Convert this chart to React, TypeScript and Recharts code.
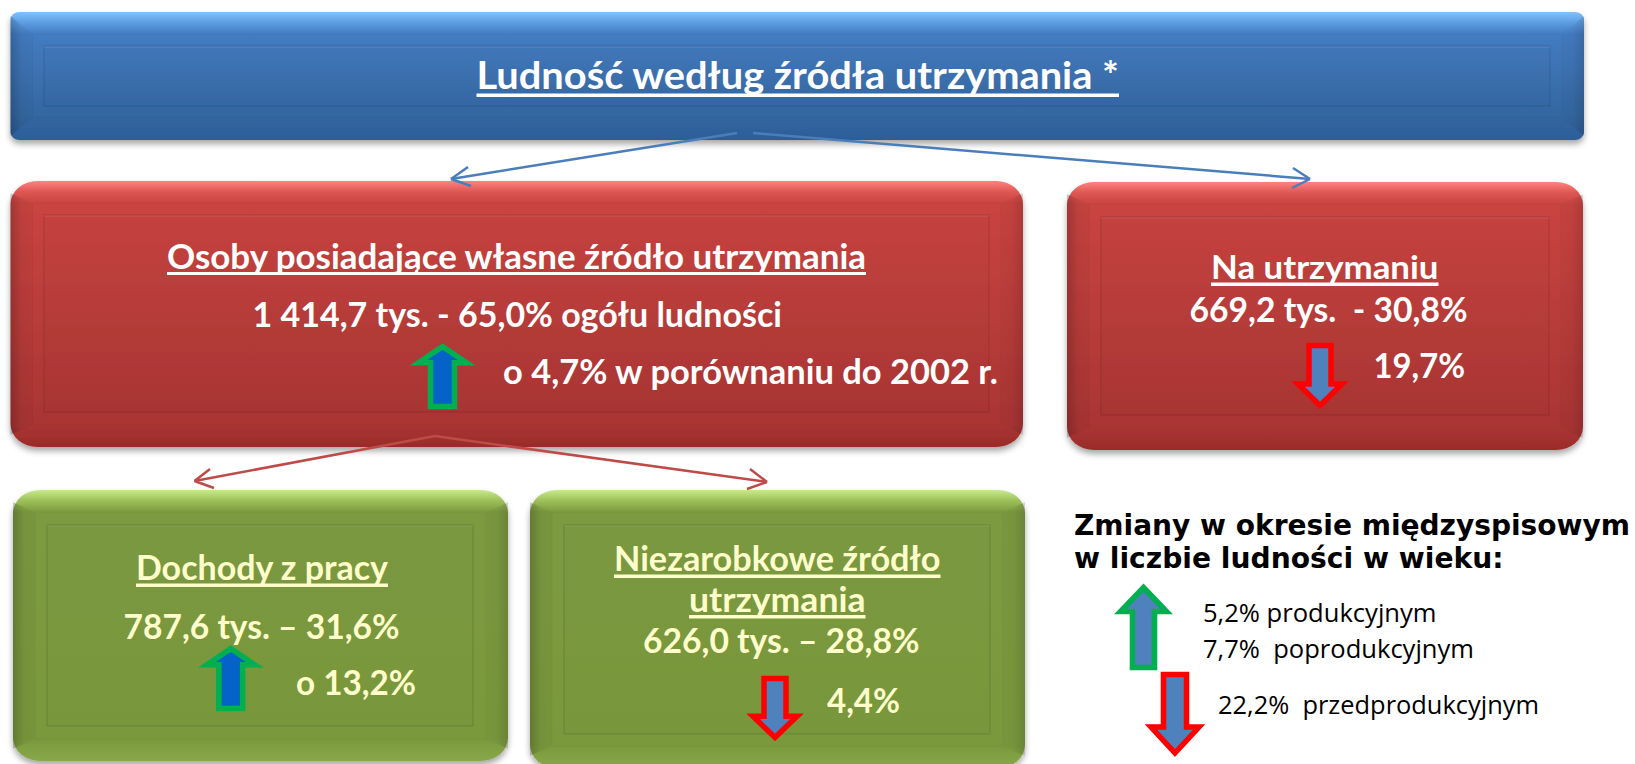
import React from "react";
import { ComposedChart, XAxis, YAxis, ReferenceArea, ReferenceLine, Scatter } from "recharts";

// ---------- content ----------
const titleLabel = "Ludność według źródła utrzymania *";
const ownSourceLabels = [
  "Osoby posiadające własne źródło utrzymania",
  "1 414,7 tys. - 65,0% ogółu ludności",
  "o 4,7% w porównaniu do 2002 r.",
];
const dependentLabels = ["Na utrzymaniu", "669,2 tys.  - 30,8%", "19,7%"];
const workLabels = ["Dochody z pracy", "787,6 tys. – 31,6%", "o 13,2%"];
const nonEarnedLabels = ["Niezarobkowe źródło", "utrzymania", "626,0 tys. – 28,8%", "4,4%"];
const legendHeadingLabels = ["Zmiany w okresie międzyspisowym", "w liczbie ludności w wieku:"];
const legendLabels = ["5,2% produkcyjnym", "7,7%  poprodukcyjnym", "22,2%  przedprodukcyjnym"];

// ---------- layout (chart space is one unit per pixel) ----------
const W = 1635;
const H = 764;
const LATO = "Lato, Carlito, sans-serif";
const DEJAVU = "'DejaVu Sans', sans-serif";
const OPEN = "'Open Sans', sans-serif";
const WHITE = "#ffffff";
const CREAM = "#ffffcc";

const palettes: Record<string, string[]> = {
  blue: ["#80c2ff", "#5c9be0", "#447cc2", "#33669f", "#2c5d98"],
  red: ["#ff8280", "#dd5653", "#c94441", "#a93533", "#9b2b29"],
  green: ["#c8ea8e", "#9cbf58", "#7c9a40", "#7a993d", "#88a84a"],
};

const boxes = [
  { id: "blue", x1: 10.5, x2: 1584, y1: 12, y2: 140, r: 9, inner: [44, 1550, 46, 106], bevel: 22 },
  { id: "red", x1: 10.5, x2: 1023, y1: 181, y2: 447, r: 27, inner: [44, 989, 215, 412], bevel: 22 },
  { id: "red", x1: 1067, x2: 1583, y1: 182, y2: 450, r: 27, inner: [1101, 1549, 217, 415], bevel: 22 },
  { id: "green", x1: 13, x2: 508, y1: 490, y2: 761, r: 27, inner: [47, 473, 525, 726], bevel: 22 },
  { id: "green", x1: 530, x2: 1025, y1: 490, y2: 768, r: 27, inner: [564, 990, 525, 734], bevel: 22 },
];

const arrows = [
  { x1: 418.5, x2: 466.5, y1: 346.5, y2: 406.5, up: true, fill: "#0563c8", stroke: "#00b050", shaft: 0.5, head: 0.27 },
  { x1: 1298, x2: 1342, y1: 345.5, y2: 405.5, up: false, fill: "#4f81bd", stroke: "#ff0000", shaft: 0.5, head: 0.36 },
  { x1: 207, x2: 254.5, y1: 648.5, y2: 708.5, up: true, fill: "#0563c8", stroke: "#00b050", shaft: 0.5, head: 0.27 },
  { x1: 753, x2: 797, y1: 678.5, y2: 737.5, up: false, fill: "#4f81bd", stroke: "#ff0000", shaft: 0.5, head: 0.36 },
  { x1: 1120.5, x2: 1166.5, y1: 587.5, y2: 667.5, up: true, fill: "#4f81bd", stroke: "#00b050", shaft: 0.48, head: 0.3 },
  { x1: 1151, x2: 1199, y1: 674.5, y2: 753, up: false, fill: "#4f81bd", stroke: "#ff0000", shaft: 0.48, head: 0.33 },
];

const connectors = [
  { stroke: "#4a7ebb", from: [737, 133], tip: [451, 179], a: [468, 167], b: [471, 186] },
  { stroke: "#4a7ebb", from: [753, 133], tip: [1310, 179], a: [1293, 168], b: [1292, 188] },
  { stroke: "#be4b48", from: [435, 436], tip: [194.5, 481], a: [210, 469], b: [214, 488] },
  { stroke: "#be4b48", from: [435, 436], tip: [767, 482], a: [750, 469], b: [747, 489] },
];

const row = (text: string, x: number, x2: number, y: number, size: number, fill: string, under?: number[], family = LATO, weight = 700) =>
  ({ text, x, y, w: x2 - x, size, fill, under, family, weight });

const textRows = [
  row(titleLabel, 476.5, 1119, 89, 38, WHITE, [4.5, 8]),
  row(ownSourceLabels[0], 167, 866, 268.5, 34, WHITE, [3.5, 6.5]),
  row(ownSourceLabels[1], 252.5, 782, 326.5, 34, WHITE),
  row(ownSourceLabels[2], 503, 998, 383.5, 34, WHITE),
  row(dependentLabels[0], 1211, 1438.5, 279, 33, WHITE, [3.5, 7]),
  row(dependentLabels[1], 1189.5, 1467.5, 321.5, 34, WHITE),
  row(dependentLabels[2], 1373.5, 1465, 378, 34, WHITE),
  row(workLabels[0], 136, 388, 580, 34, CREAM, [3.5, 7]),
  row(workLabels[1], 123.5, 399.5, 638.5, 34, CREAM),
  row(workLabels[2], 296, 416, 694.5, 34, CREAM),
  row(nonEarnedLabels[0], 614, 940.5, 571, 34, CREAM, [3.5, 7]),
  row(nonEarnedLabels[1], 689, 865.5, 611.5, 34, CREAM, [3.5, 7]),
  row(nonEarnedLabels[2], 643, 919.5, 653, 34, CREAM),
  row(nonEarnedLabels[3], 827, 900, 712.5, 34, CREAM),
  row(legendHeadingLabels[0], 1074, 1630, 535, 28, "#000000", undefined, DEJAVU),
  row(legendHeadingLabels[1], 1074, 1503.5, 568, 28, "#000000", undefined, DEJAVU),
  row(legendLabels[0], 1203, 1436.5, 622, 25, "#000000", undefined, OPEN, 400),
  row(legendLabels[1], 1203, 1474, 658, 25, "#000000", undefined, OPEN, 400),
  row(legendLabels[2], 1218, 1539, 714, 25, "#000000", undefined, OPEN, 400),
];

// ---------- shapes ----------
const boxShape = (b: (typeof boxes)[number], i: number) => (p: any) => {
  const { x, y, width: w, height: h } = p;
  const [ix1, ix2, iy1, iy2] = b.inner;
  const r = b.r;
  const bv = b.bevel;
  const c = palettes[b.id];
  const e = r * 0.45;
  return (
    <g>
      <defs>
        <linearGradient id={`grad-${i}`} x1="0" y1="0" x2="0" y2="1">
          <stop offset="0" stopColor={c[0]} />
          <stop offset={(bv * 0.5) / h} stopColor={c[1]} />
          <stop offset={bv / h} stopColor={c[2]} />
          <stop offset={1 - bv / h} stopColor={c[3]} />
          <stop offset="1" stopColor={c[4]} />
        </linearGradient>
      </defs>
      <rect x={x} y={y} width={w} height={h} rx={r} ry={r * 0.85} fill={`url(#grad-${i})`} filter="url(#boxShadow)" />
      <polygon points={`${x},${y + e} ${x + bv},${y + bv} ${x + bv},${y + h - bv} ${x},${y + h - e}`} fill="url(#edgeLeft)" />
      <polygon points={`${x + w},${y + e} ${x + w - bv},${y + bv} ${x + w - bv},${y + h - bv} ${x + w},${y + h - e}`} fill="url(#edgeRight)" />
      <rect x={x + bv} y={y + bv} width={w - 2 * bv} height={h - 2 * bv} fill="none" stroke="#000" strokeOpacity={0.035} />
      <rect x={ix1} y={iy1} width={ix2 - ix1} height={iy2 - iy1} fill="#000" fillOpacity={0.012} stroke="#000" strokeOpacity={0.09} strokeWidth={1.5} />
      <line x1={ix1} x2={ix2} y1={iy1 + 1} y2={iy1 + 1} stroke="#fff" strokeOpacity={0.09} strokeWidth={1.5} />
    </g>
  );
};

const arrowShape = (a: (typeof arrows)[number]) => (p: any) => {
  const { x, y, width: w, height: h } = p;
  const cx = x + w / 2;
  const half = (w * a.shaft) / 2;
  const head = h * a.head;
  const d = a.up
    ? `M${cx},${y} L${x + w},${y + head} H${cx + half} V${y + h} H${cx - half} V${y + head} H${x} Z`
    : `M${cx},${y + h} L${x + w},${y + h - head} H${cx + half} V${y} H${cx - half} V${y + h - head} H${x} Z`;
  return <path d={d} fill={a.fill} stroke={a.stroke} strokeWidth={5.5} strokeMiterlimit={6} />;
};

const TextShape = (p: any) => {
  const { cx, cy, payload: t } = p;
  return (
    <g>
      <text
        x={cx}
        y={cy}
        fontFamily={t.family}
        fontWeight={t.weight}
        fontSize={t.size}
        fill={t.fill}
        textLength={t.w}
        lengthAdjust="spacingAndGlyphs"
        style={{ whiteSpace: "pre" }}
      >
        {t.text}
      </text>
      {t.under ? <rect x={cx} y={cy + t.under[0]} width={t.w} height={t.under[1] - t.under[0]} fill={t.fill} /> : null}
    </g>
  );
};

const seg = (a: number[], b: number[]) => [
  { x: a[0], y: a[1] },
  { x: b[0], y: b[1] },
] as any;

export default function App() {
  return (
    <div style={{ position: "absolute", left: 0, top: 0, width: W, height: H, background: "#fff" }}>
      <ComposedChart width={W} height={H} margin={{ top: 0, right: 0, bottom: 0, left: 0 }} data={[]}>
        <defs>
          <linearGradient id="edgeLeft" x1="0" y1="0" x2="1" y2="0">
            <stop offset="0" stopColor="#000" stopOpacity={0.2} />
            <stop offset="0.5" stopColor="#000" stopOpacity={0.05} />
            <stop offset="1" stopColor="#000" stopOpacity={0.03} />
          </linearGradient>
          <linearGradient id="edgeRight" x1="1" y1="0" x2="0" y2="0">
            <stop offset="0" stopColor="#000" stopOpacity={0.14} />
            <stop offset="0.5" stopColor="#000" stopOpacity={0.04} />
            <stop offset="1" stopColor="#000" stopOpacity={0.02} />
          </linearGradient>
          <filter id="boxShadow" x="-3%" y="-3%" width="106%" height="112%">
            <feDropShadow dx="0" dy="4" stdDeviation="3" floodColor="#000" floodOpacity="0.35" />
          </filter>
        </defs>
        <XAxis type="number" dataKey="x" domain={[0, W]} hide allowDataOverflow />
        <YAxis type="number" dataKey="y" domain={[0, H]} reversed hide allowDataOverflow />
        {boxes.map((b, i) => (
          <ReferenceArea key={`box${i}`} x1={b.x1} x2={b.x2} y1={b.y1} y2={b.y2} shape={boxShape(b, i)} ifOverflow="visible" />
        ))}
        {arrows.map((a, i) => (
          <ReferenceArea key={`arrow${i}`} x1={a.x1} x2={a.x2} y1={a.y1} y2={a.y2} shape={arrowShape(a)} ifOverflow="visible" />
        ))}
        {connectors.flatMap((c, i) => [
          <ReferenceLine key={`s${i}`} segment={seg(c.from, c.tip)} stroke={c.stroke} strokeWidth={2.5} ifOverflow="visible" />,
          <ReferenceLine key={`a${i}`} segment={seg(c.a, c.tip)} stroke={c.stroke} strokeWidth={2.5} ifOverflow="visible" />,
          <ReferenceLine key={`b${i}`} segment={seg(c.b, c.tip)} stroke={c.stroke} strokeWidth={2.5} ifOverflow="visible" />,
        ])}
        <Scatter data={textRows} dataKey="y" shape={TextShape} isAnimationActive={false} />
      </ComposedChart>
    </div>
  );
}
